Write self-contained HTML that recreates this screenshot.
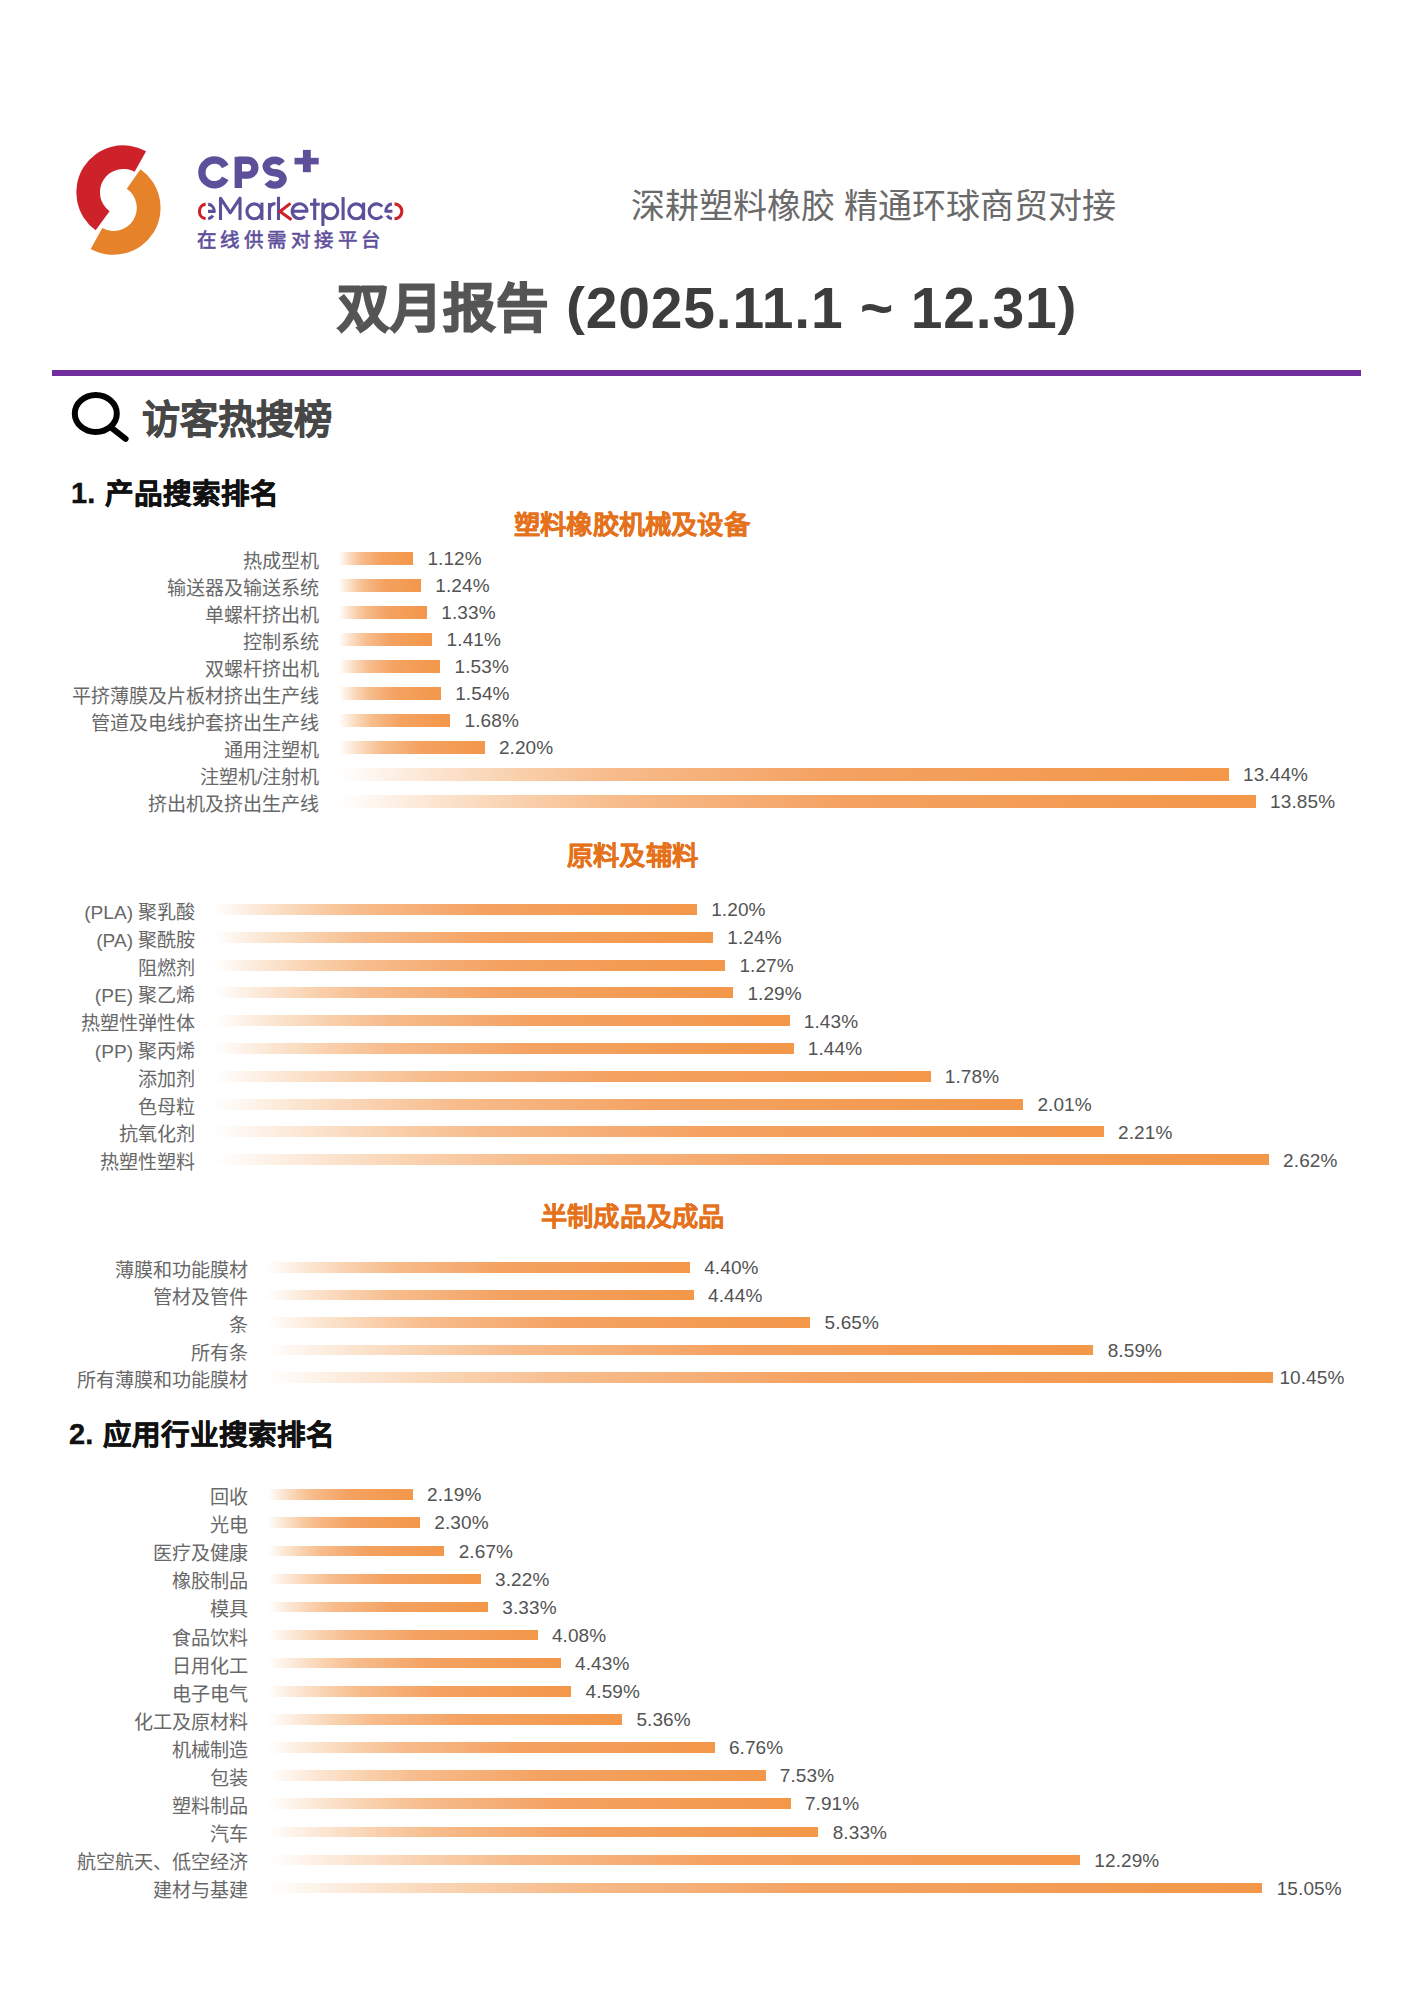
<!DOCTYPE html>
<html lang="zh-CN"><head><meta charset="utf-8"><title>双月报告</title>
<style>
html,body{margin:0;padding:0;background:#fff;}
body{width:1414px;height:2000px;position:relative;overflow:hidden;font-family:"Liberation Sans",sans-serif;}
div{position:absolute;line-height:1;white-space:nowrap;}
.lb{font-size:19.1px;color:#686868;text-align:right;}
.pc{font-size:19px;color:#535353;letter-spacing:0.1px}
.bar{background:linear-gradient(90deg,rgba(250,200,160,0) 0%,rgba(249,210,175,0.5) 9%,#F9D0AC 20%,#F7BC8C 30%,#F4A262 55%,#F39749 100%);}
.st{font-size:26.3px;font-weight:bold;color:#E5711B;letter-spacing:0.2px;-webkit-text-stroke:0.3px #E5711B}
.h2{font-size:28.6px;font-weight:bold;color:#111;-webkit-text-stroke:0.5px #111}
.h2n{font-size:29px;font-weight:bold;color:#111;-webkit-text-stroke:0.4px #111}
</style></head><body>
<svg width="1414" height="460" viewBox="0 0 1414 460" style="position:absolute;left:0;top:0">
<path d="M146.09,151.19 A47,47 0 0 0 95.67,230.32 L109.55,211.23 A23.4,23.4 0 0 1 134.64,171.83 Z" fill="#CE222B"/>
<path d="M140.46,169.3 A47,47 0 0 1 90.71,248.91 L102.25,228.09 A23.2,23.2 0 0 0 126.81,188.79 Z" fill="#E6822A"/>
<g fill="none" stroke="#5E4F9B" stroke-width="7.4">
<path d="M225.25,166.58 A12.4,12.4 0 1 0 225.25,178.22"/>
<path d="M238.3,156.8 V188"/>
<path d="M238.3,160.3 H247.4 A7.4,7.4 0 0 1 247.4,175.1 H241"/>
<path d="M281.9,163.4 A8.35,6.2 0 1 0 274.65,172.7 A8.35,6.2 0 1 1 267.4,182.0"/>
</g>
<rect x="294.5" y="157.8" width="24.2" height="6.6" fill="#5E4F9B"/>
<rect x="302.9" y="149.9" width="7.9" height="22.3" fill="#5E4F9B"/>
<ellipse cx="95.8" cy="413.5" rx="21" ry="18.5" fill="none" stroke="#000" stroke-width="6"/>
<line x1="112.5" y1="428.6" x2="125.6" y2="438.8" stroke="#000" stroke-width="6" stroke-linecap="round"/>
</svg>
<svg width="420" height="240" viewBox="0 0 420 240" style="position:absolute;left:0;top:0">
<g fill="none" stroke="#5E4F9B" stroke-width="3.1" stroke-linejoin="round">
<path d="M208.2,204.1 A7.4,7.4 0 0 1 214.3,211.4 H208"/>
<path d="M208.2,218.7 A7.4,7.4 0 0 0 212.96,215.64"/>
<path d="M220.5,220 V198.2 L230.25,212.8 L240,198.2 V220"/>
<circle cx="254.3" cy="211.3" r="7.4"/>
<path d="M261.9,202.6 V220"/>
<path d="M269.5,220 V203 M269.5,209.8 Q269.5,203.6 275.5,203.6"/>
<path d="M278.5,196.8 V220"/>
<path d="M292.2,211.3 H307 A7.4,7.4 0 1 0 304.8,216.5"/>
<path d="M314.7,198.4 V220 M310,204.3 H319.8"/>
<circle cx="330.4" cy="211.3" r="7.4"/>
<path d="M322.9,202.6 V226"/>
<path d="M343.1,197.1 V220"/>
<circle cx="356.2" cy="211.3" r="7.4"/>
<path d="M363.6,202.6 V220"/>
<path d="M382.2,206.5 A7.4,7.4 0 1 0 382.2,216.06"/>
<path d="M391.9,203.9 A7.4,7.4 0 0 0 385.8,211.3 H392.4"/>
<path d="M391.9,218.7 A7.4,7.4 0 0 1 387.14,215.54"/>
</g>
<g fill="none" stroke="#CE222B" stroke-width="3.1">
<path d="M205.6,204.1 A7.4,7.4 0 0 0 205.6,218.7"/>
<path d="M290.4,203.4 L280,211.5 L291.5,219.8"/>
<path d="M394.5,203.9 A7.4,7.4 0 0 1 394.5,218.7"/>
</g>
</svg>
<div style="left:197px;top:231px;font-size:19.5px;color:#5E4F9B;letter-spacing:3.43px;-webkit-text-stroke:0.6px #5E4F9B">在线供需对接平台</div>
<div style="left:631px;top:188.5px;font-size:34px;color:#6A6A6A">深耕塑料橡胶 精通环球商贸对接</div>
<div style="left:337px;top:283px;font-size:52.5px;font-weight:bold;color:#555;-webkit-text-stroke:1.6px #555">双月报告</div>
<div style="left:566px;top:280px;font-size:57px;font-weight:bold;color:#3D3D3D;letter-spacing:0.8px"><span style="display:inline-block;transform:scaleY(0.9);transform-origin:50% 12%">(</span>2025.11.1 ~ 12.31<span style="display:inline-block;transform:scaleY(0.9);transform-origin:50% 12%">)</span></div>
<div style="left:52px;top:369.5px;width:1309px;height:6.5px;background:#702E9E"></div>
<div style="left:142px;top:401px;font-size:38.2px;font-weight:bold;color:#474747;-webkit-text-stroke:0.7px #474747">访客热搜榜</div>
<div class="h2n" style="left:71px;top:479px">1.</div>
<div class="h2" style="left:105px;top:480px">产品搜索排名</div>
<div class="st" style="left:514px;top:512px">塑料橡胶机械及设备</div>
<div class="lb" style="top:551.7px;right:1094.7px">热成型机</div>
<div class="bar" style="top:552.0px;left:339.1px;width:74.1px;height:12.5px"></div>
<div class="pc" style="top:549.0px;left:427.4px">1.12%</div>
<div class="lb" style="top:578.7px;right:1094.7px">输送器及输送系统</div>
<div class="bar" style="top:579.0px;left:339.1px;width:82.1px;height:12.5px"></div>
<div class="pc" style="top:576.0px;left:435.3px">1.24%</div>
<div class="lb" style="top:605.7px;right:1094.7px">单螺杆挤出机</div>
<div class="bar" style="top:606.0px;left:339.1px;width:88.0px;height:12.5px"></div>
<div class="pc" style="top:603.0px;left:441.3px">1.33%</div>
<div class="lb" style="top:632.7px;right:1094.7px">控制系统</div>
<div class="bar" style="top:633.0px;left:339.1px;width:93.3px;height:12.5px"></div>
<div class="pc" style="top:630.0px;left:446.6px">1.41%</div>
<div class="lb" style="top:659.7px;right:1094.7px">双螺杆挤出机</div>
<div class="bar" style="top:660.0px;left:339.1px;width:101.3px;height:12.5px"></div>
<div class="pc" style="top:657.0px;left:454.5px">1.53%</div>
<div class="lb" style="top:686.7px;right:1094.7px">平挤薄膜及片板材挤出生产线</div>
<div class="bar" style="top:687.0px;left:339.1px;width:101.9px;height:12.5px"></div>
<div class="pc" style="top:684.0px;left:455.2px">1.54%</div>
<div class="lb" style="top:713.7px;right:1094.7px">管道及电线护套挤出生产线</div>
<div class="bar" style="top:714.0px;left:339.1px;width:111.2px;height:12.5px"></div>
<div class="pc" style="top:711.0px;left:464.5px">1.68%</div>
<div class="lb" style="top:740.7px;right:1094.7px">通用注塑机</div>
<div class="bar" style="top:741.0px;left:339.1px;width:145.6px;height:12.5px"></div>
<div class="pc" style="top:738.0px;left:498.9px">2.20%</div>
<div class="lb" style="top:767.7px;right:1094.7px">注塑机/注射机</div>
<div class="bar" style="top:768.0px;left:339.1px;width:889.7px;height:12.5px"></div>
<div class="pc" style="top:765.0px;left:1243.0px">13.44%</div>
<div class="lb" style="top:794.7px;right:1094.7px">挤出机及挤出生产线</div>
<div class="bar" style="top:795.0px;left:339.1px;width:916.9px;height:12.5px"></div>
<div class="pc" style="top:792.0px;left:1270.1px">13.85%</div>
<div class="st" style="left:567px;top:843px">原料及辅料</div>
<div class="lb" style="top:902.9px;right:1218.7px">(PLA) 聚乳酸</div>
<div class="bar" style="top:904.0px;left:213.6px;width:483.4px;height:11px"></div>
<div class="pc" style="top:900.3px;left:711.2px">1.20%</div>
<div class="lb" style="top:930.7px;right:1218.7px">(PA) 聚酰胺</div>
<div class="bar" style="top:931.8px;left:213.6px;width:499.5px;height:11px"></div>
<div class="pc" style="top:928.1px;left:727.3px">1.24%</div>
<div class="lb" style="top:958.5px;right:1218.7px">阻燃剂</div>
<div class="bar" style="top:959.6px;left:213.6px;width:511.6px;height:11px"></div>
<div class="pc" style="top:955.9px;left:739.4px">1.27%</div>
<div class="lb" style="top:986.3px;right:1218.7px">(PE) 聚乙烯</div>
<div class="bar" style="top:987.4px;left:213.6px;width:519.6px;height:11px"></div>
<div class="pc" style="top:983.7px;left:747.4px">1.29%</div>
<div class="lb" style="top:1014.1px;right:1218.7px">热塑性弹性体</div>
<div class="bar" style="top:1015.2px;left:213.6px;width:576.0px;height:11px"></div>
<div class="pc" style="top:1011.5px;left:803.8px">1.43%</div>
<div class="lb" style="top:1041.9px;right:1218.7px">(PP) 聚丙烯</div>
<div class="bar" style="top:1043.0px;left:213.6px;width:580.0px;height:11px"></div>
<div class="pc" style="top:1039.3px;left:807.8px">1.44%</div>
<div class="lb" style="top:1069.7px;right:1218.7px">添加剂</div>
<div class="bar" style="top:1070.8px;left:213.6px;width:717.0px;height:11px"></div>
<div class="pc" style="top:1067.1px;left:944.8px">1.78%</div>
<div class="lb" style="top:1097.5px;right:1218.7px">色母粒</div>
<div class="bar" style="top:1098.6px;left:213.6px;width:809.6px;height:11px"></div>
<div class="pc" style="top:1094.9px;left:1037.4px">2.01%</div>
<div class="lb" style="top:1125.3px;right:1218.7px">抗氧化剂</div>
<div class="bar" style="top:1126.4px;left:213.6px;width:890.2px;height:11px"></div>
<div class="pc" style="top:1122.7px;left:1118.0px">2.21%</div>
<div class="lb" style="top:1153.1px;right:1218.7px">热塑性塑料</div>
<div class="bar" style="top:1154.2px;left:213.6px;width:1055.3px;height:11px"></div>
<div class="pc" style="top:1150.5px;left:1283.1px">2.62%</div>
<div class="st" style="left:541px;top:1204px">半制成品及成品</div>
<div class="lb" style="top:1260.7px;right:1166.2px">薄膜和功能膜材</div>
<div class="bar" style="top:1262.0px;left:266.2px;width:423.8px;height:10.5px"></div>
<div class="pc" style="top:1258.0px;left:704.2px">4.40%</div>
<div class="lb" style="top:1288.3px;right:1166.2px">管材及管件</div>
<div class="bar" style="top:1289.6px;left:266.2px;width:427.6px;height:10.5px"></div>
<div class="pc" style="top:1285.6px;left:708.0px">4.44%</div>
<div class="lb" style="top:1315.9px;right:1166.2px">条</div>
<div class="bar" style="top:1317.2px;left:266.2px;width:544.2px;height:10.5px"></div>
<div class="pc" style="top:1313.2px;left:824.6px">5.65%</div>
<div class="lb" style="top:1343.5px;right:1166.2px">所有条</div>
<div class="bar" style="top:1344.8px;left:266.2px;width:827.3px;height:10.5px"></div>
<div class="pc" style="top:1340.8px;left:1107.7px">8.59%</div>
<div class="lb" style="top:1371.1px;right:1166.2px">所有薄膜和功能膜材</div>
<div class="bar" style="top:1372.4px;left:266.2px;width:1006.4px;height:10.5px"></div>
<div class="pc" style="top:1368.4px;left:1279.4px">10.45%</div>
<div class="h2n" style="left:69px;top:1420px">2.</div>
<div class="h2" style="left:103px;top:1421px">应用行业搜索排名</div>
<div class="lb" style="top:1488.0px;right:1166.2px">回收</div>
<div class="bar" style="top:1489.3px;left:268.1px;width:144.7px;height:10.5px"></div>
<div class="pc" style="top:1485.3px;left:427.0px">2.19%</div>
<div class="lb" style="top:1516.1px;right:1166.2px">光电</div>
<div class="bar" style="top:1517.4px;left:268.1px;width:152.0px;height:10.5px"></div>
<div class="pc" style="top:1513.4px;left:434.3px">2.30%</div>
<div class="lb" style="top:1544.2px;right:1166.2px">医疗及健康</div>
<div class="bar" style="top:1545.5px;left:268.1px;width:176.4px;height:10.5px"></div>
<div class="pc" style="top:1541.5px;left:458.7px">2.67%</div>
<div class="lb" style="top:1572.3px;right:1166.2px">橡胶制品</div>
<div class="bar" style="top:1573.6px;left:268.1px;width:212.7px;height:10.5px"></div>
<div class="pc" style="top:1569.6px;left:495.0px">3.22%</div>
<div class="lb" style="top:1600.4px;right:1166.2px">模具</div>
<div class="bar" style="top:1601.7px;left:268.1px;width:220.0px;height:10.5px"></div>
<div class="pc" style="top:1597.7px;left:502.3px">3.33%</div>
<div class="lb" style="top:1628.5px;right:1166.2px">食品饮料</div>
<div class="bar" style="top:1629.8px;left:268.1px;width:269.6px;height:10.5px"></div>
<div class="pc" style="top:1625.8px;left:551.9px">4.08%</div>
<div class="lb" style="top:1656.6px;right:1166.2px">日用化工</div>
<div class="bar" style="top:1657.9px;left:268.1px;width:292.7px;height:10.5px"></div>
<div class="pc" style="top:1653.9px;left:575.0px">4.43%</div>
<div class="lb" style="top:1684.7px;right:1166.2px">电子电气</div>
<div class="bar" style="top:1686.0px;left:268.1px;width:303.3px;height:10.5px"></div>
<div class="pc" style="top:1682.0px;left:585.6px">4.59%</div>
<div class="lb" style="top:1712.8px;right:1166.2px">化工及原材料</div>
<div class="bar" style="top:1714.1px;left:268.1px;width:354.1px;height:10.5px"></div>
<div class="pc" style="top:1710.1px;left:636.4px">5.36%</div>
<div class="lb" style="top:1740.9px;right:1166.2px">机械制造</div>
<div class="bar" style="top:1742.2px;left:268.1px;width:446.6px;height:10.5px"></div>
<div class="pc" style="top:1738.2px;left:728.9px">6.76%</div>
<div class="lb" style="top:1769.0px;right:1166.2px">包装</div>
<div class="bar" style="top:1770.3px;left:268.1px;width:497.5px;height:10.5px"></div>
<div class="pc" style="top:1766.3px;left:779.8px">7.53%</div>
<div class="lb" style="top:1797.1px;right:1166.2px">塑料制品</div>
<div class="bar" style="top:1798.4px;left:268.1px;width:522.6px;height:10.5px"></div>
<div class="pc" style="top:1794.4px;left:804.9px">7.91%</div>
<div class="lb" style="top:1825.2px;right:1166.2px">汽车</div>
<div class="bar" style="top:1826.5px;left:268.1px;width:550.4px;height:10.5px"></div>
<div class="pc" style="top:1822.5px;left:832.7px">8.33%</div>
<div class="lb" style="top:1853.3px;right:1166.2px">航空航天、低空经济</div>
<div class="bar" style="top:1854.6px;left:268.1px;width:812.0px;height:10.5px"></div>
<div class="pc" style="top:1850.6px;left:1094.3px">12.29%</div>
<div class="lb" style="top:1881.4px;right:1166.2px">建材与基建</div>
<div class="bar" style="top:1882.7px;left:268.1px;width:994.4px;height:10.5px"></div>
<div class="pc" style="top:1878.7px;left:1276.7px">15.05%</div>
</body></html>
